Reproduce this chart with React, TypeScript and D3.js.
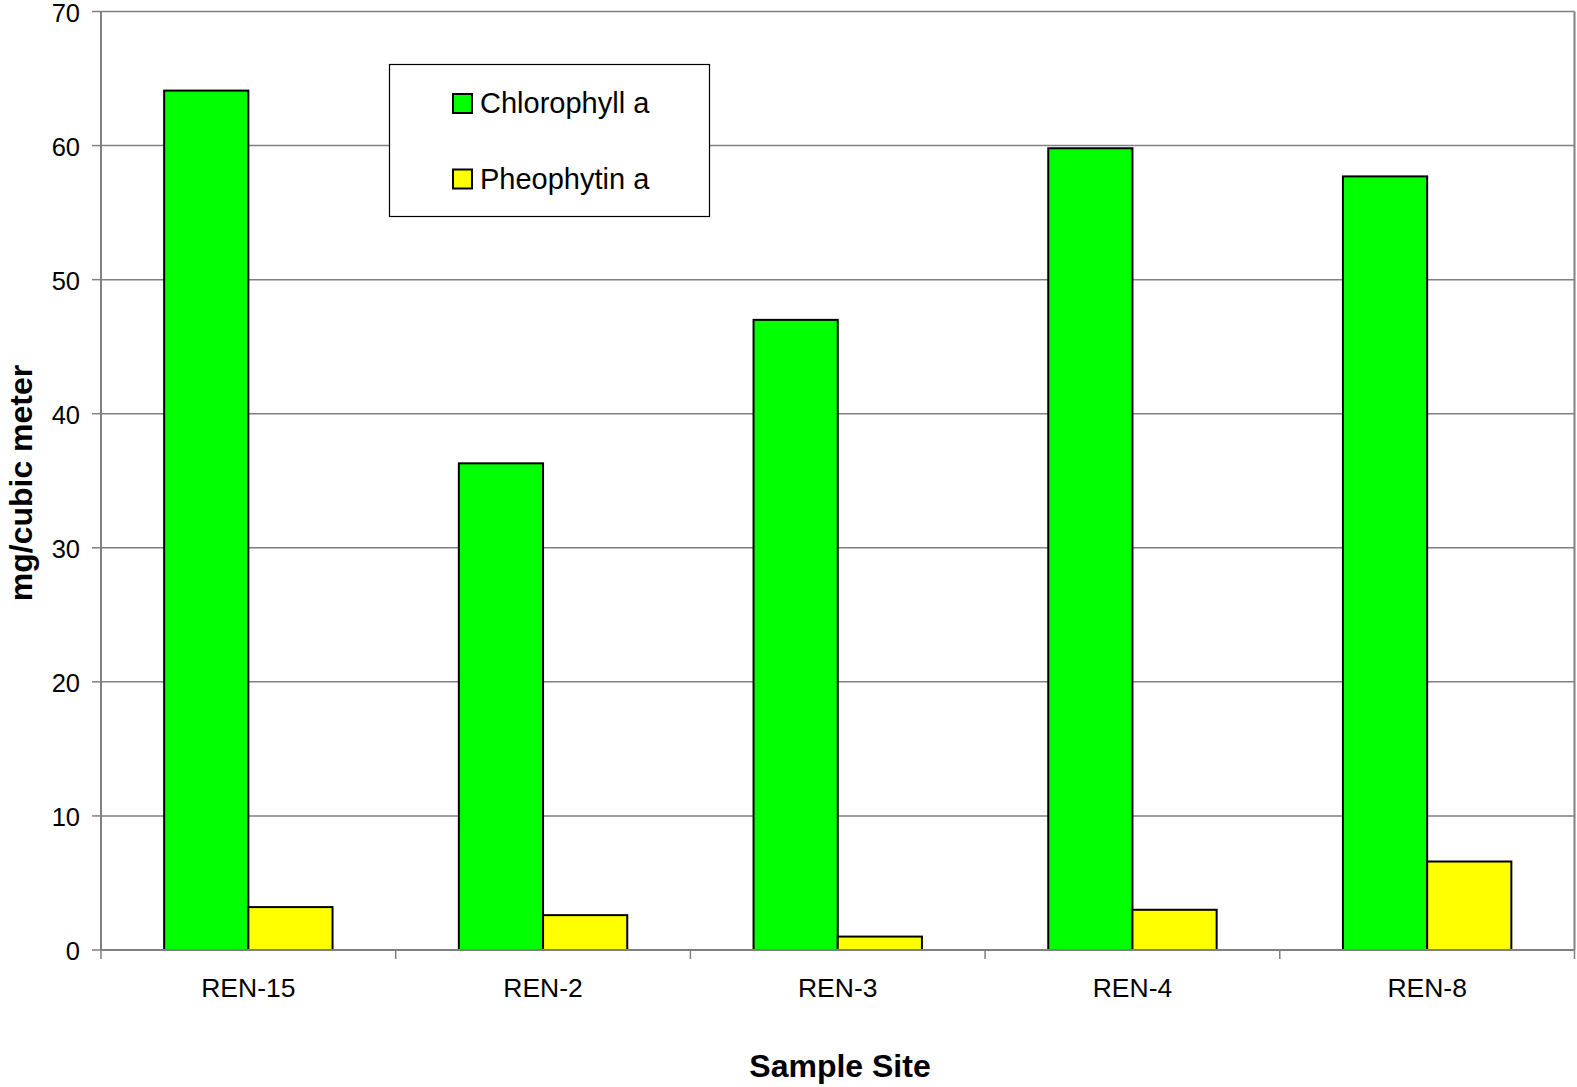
import React from "react";
import * as d3 from "d3";

const categories = ["REN-15", "REN-2", "REN-3", "REN-4", "REN-8"];
const seriesNames = ["Chlorophyll a", "Pheophytin a"];
const chlorophyll = [64.1, 36.3, 47.0, 59.8, 57.7];
const pheophytin = [3.2, 2.6, 1.0, 3.0, 6.6];
const seriesColors = ["#00FF00", "#FFFF00"];
const yTicks = [0, 10, 20, 30, 40, 50, 60, 70];

const W = 1577;
const H = 1087;
const left = 101;
const right = 1574.5;
const top = 11.5;
const bottom = 950;

export default function App() {
  const x = d3.scaleBand<string>().domain(categories).range([left, right]).padding(0);
  const y = d3.scaleLinear().domain([0, 70]).range([bottom, top]);
  const bw = x.bandwidth();
  const barW = bw / 3.5;
  const inner = d3
    .scaleBand<number>()
    .domain([0, 1])
    .range([(bw - 2 * barW) / 2, (bw + 2 * barW) / 2])
    .padding(0);
  const series = [chlorophyll, pheophytin];
  const font = "Arial, 'Liberation Sans', sans-serif";

  return (
    <svg
      width={W}
      height={H}
      style={{ position: "absolute", left: 0, top: 0, background: "#fff" }}
      fontFamily={font}
    >
      <rect x={0} y={0} width={W} height={H} fill="#fff" />
      {yTicks.map((t) => (
        <line key={"g" + t} x1={left} x2={right} y1={y(t)} y2={y(t)} stroke="#808080" strokeWidth={1.5} />
      ))}
      <line x1={right} x2={right} y1={top} y2={bottom} stroke="#808080" strokeWidth={2} />
      {series.map((vals, si) =>
        vals.map((v, i) => (
          <rect
            key={si + "-" + i}
            x={(x(categories[i]) as number) + (inner(si) as number)}
            y={y(v)}
            width={inner.bandwidth()}
            height={y(0) - y(v)}
            fill={seriesColors[si]}
            stroke="#000"
            strokeWidth={2}
          />
        ))
      )}
      <line x1={left} x2={left} y1={top} y2={bottom} stroke="#808080" strokeWidth={2} />
      <line x1={left} x2={right} y1={bottom} y2={bottom} stroke="#808080" strokeWidth={2} />
      {yTicks.map((t) => (
        <g key={"yt" + t}>
          <line x1={left - 9} x2={left} y1={y(t)} y2={y(t)} stroke="#808080" strokeWidth={1.5} />
          <text x={80} y={y(t) + 1} textAnchor="end" dominantBaseline="central" fontSize={25.5} fill="#000">
            {t}
          </text>
        </g>
      ))}
      {categories.map((c) => (
        <line
          key={"xt" + c}
          x1={x(c) as number}
          x2={x(c) as number}
          y1={bottom}
          y2={bottom + 9}
          stroke="#808080"
          strokeWidth={1.5}
        />
      ))}
      <line x1={right} x2={right} y1={bottom} y2={bottom + 9} stroke="#808080" strokeWidth={1.5} />
      {categories.map((c) => (
        <text
          key={"xl" + c}
          x={(x(c) as number) + bw / 2}
          y={997}
          textAnchor="middle"
          fontSize={26.5}
          fill="#000"
        >
          {c}
        </text>
      ))}
      <text x={840} y={1077} textAnchor="middle" fontSize={32} fontWeight="bold" fill="#000">
        Sample Site
      </text>
      <text
        transform={`translate(32,483) rotate(-90)`}
        textAnchor="middle"
        fontSize={32}
        fontWeight="bold"
        fill="#000"
      >
        mg/cubic meter
      </text>
      <rect x={389.5} y={64.5} width={320} height={152} fill="#fff" stroke="#000" strokeWidth={1.2} />
      {seriesNames.map((n, i) => (
        <g key={"lg" + n}>
          <rect
            x={453}
            y={94 + i * 75.5}
            width={19}
            height={19}
            fill={seriesColors[i]}
            stroke="#000"
            strokeWidth={2}
          />
          <text x={480} y={113 + i * 75.5} fontSize={29} fill="#000">
            {n}
          </text>
        </g>
      ))}
    </svg>
  );
}
